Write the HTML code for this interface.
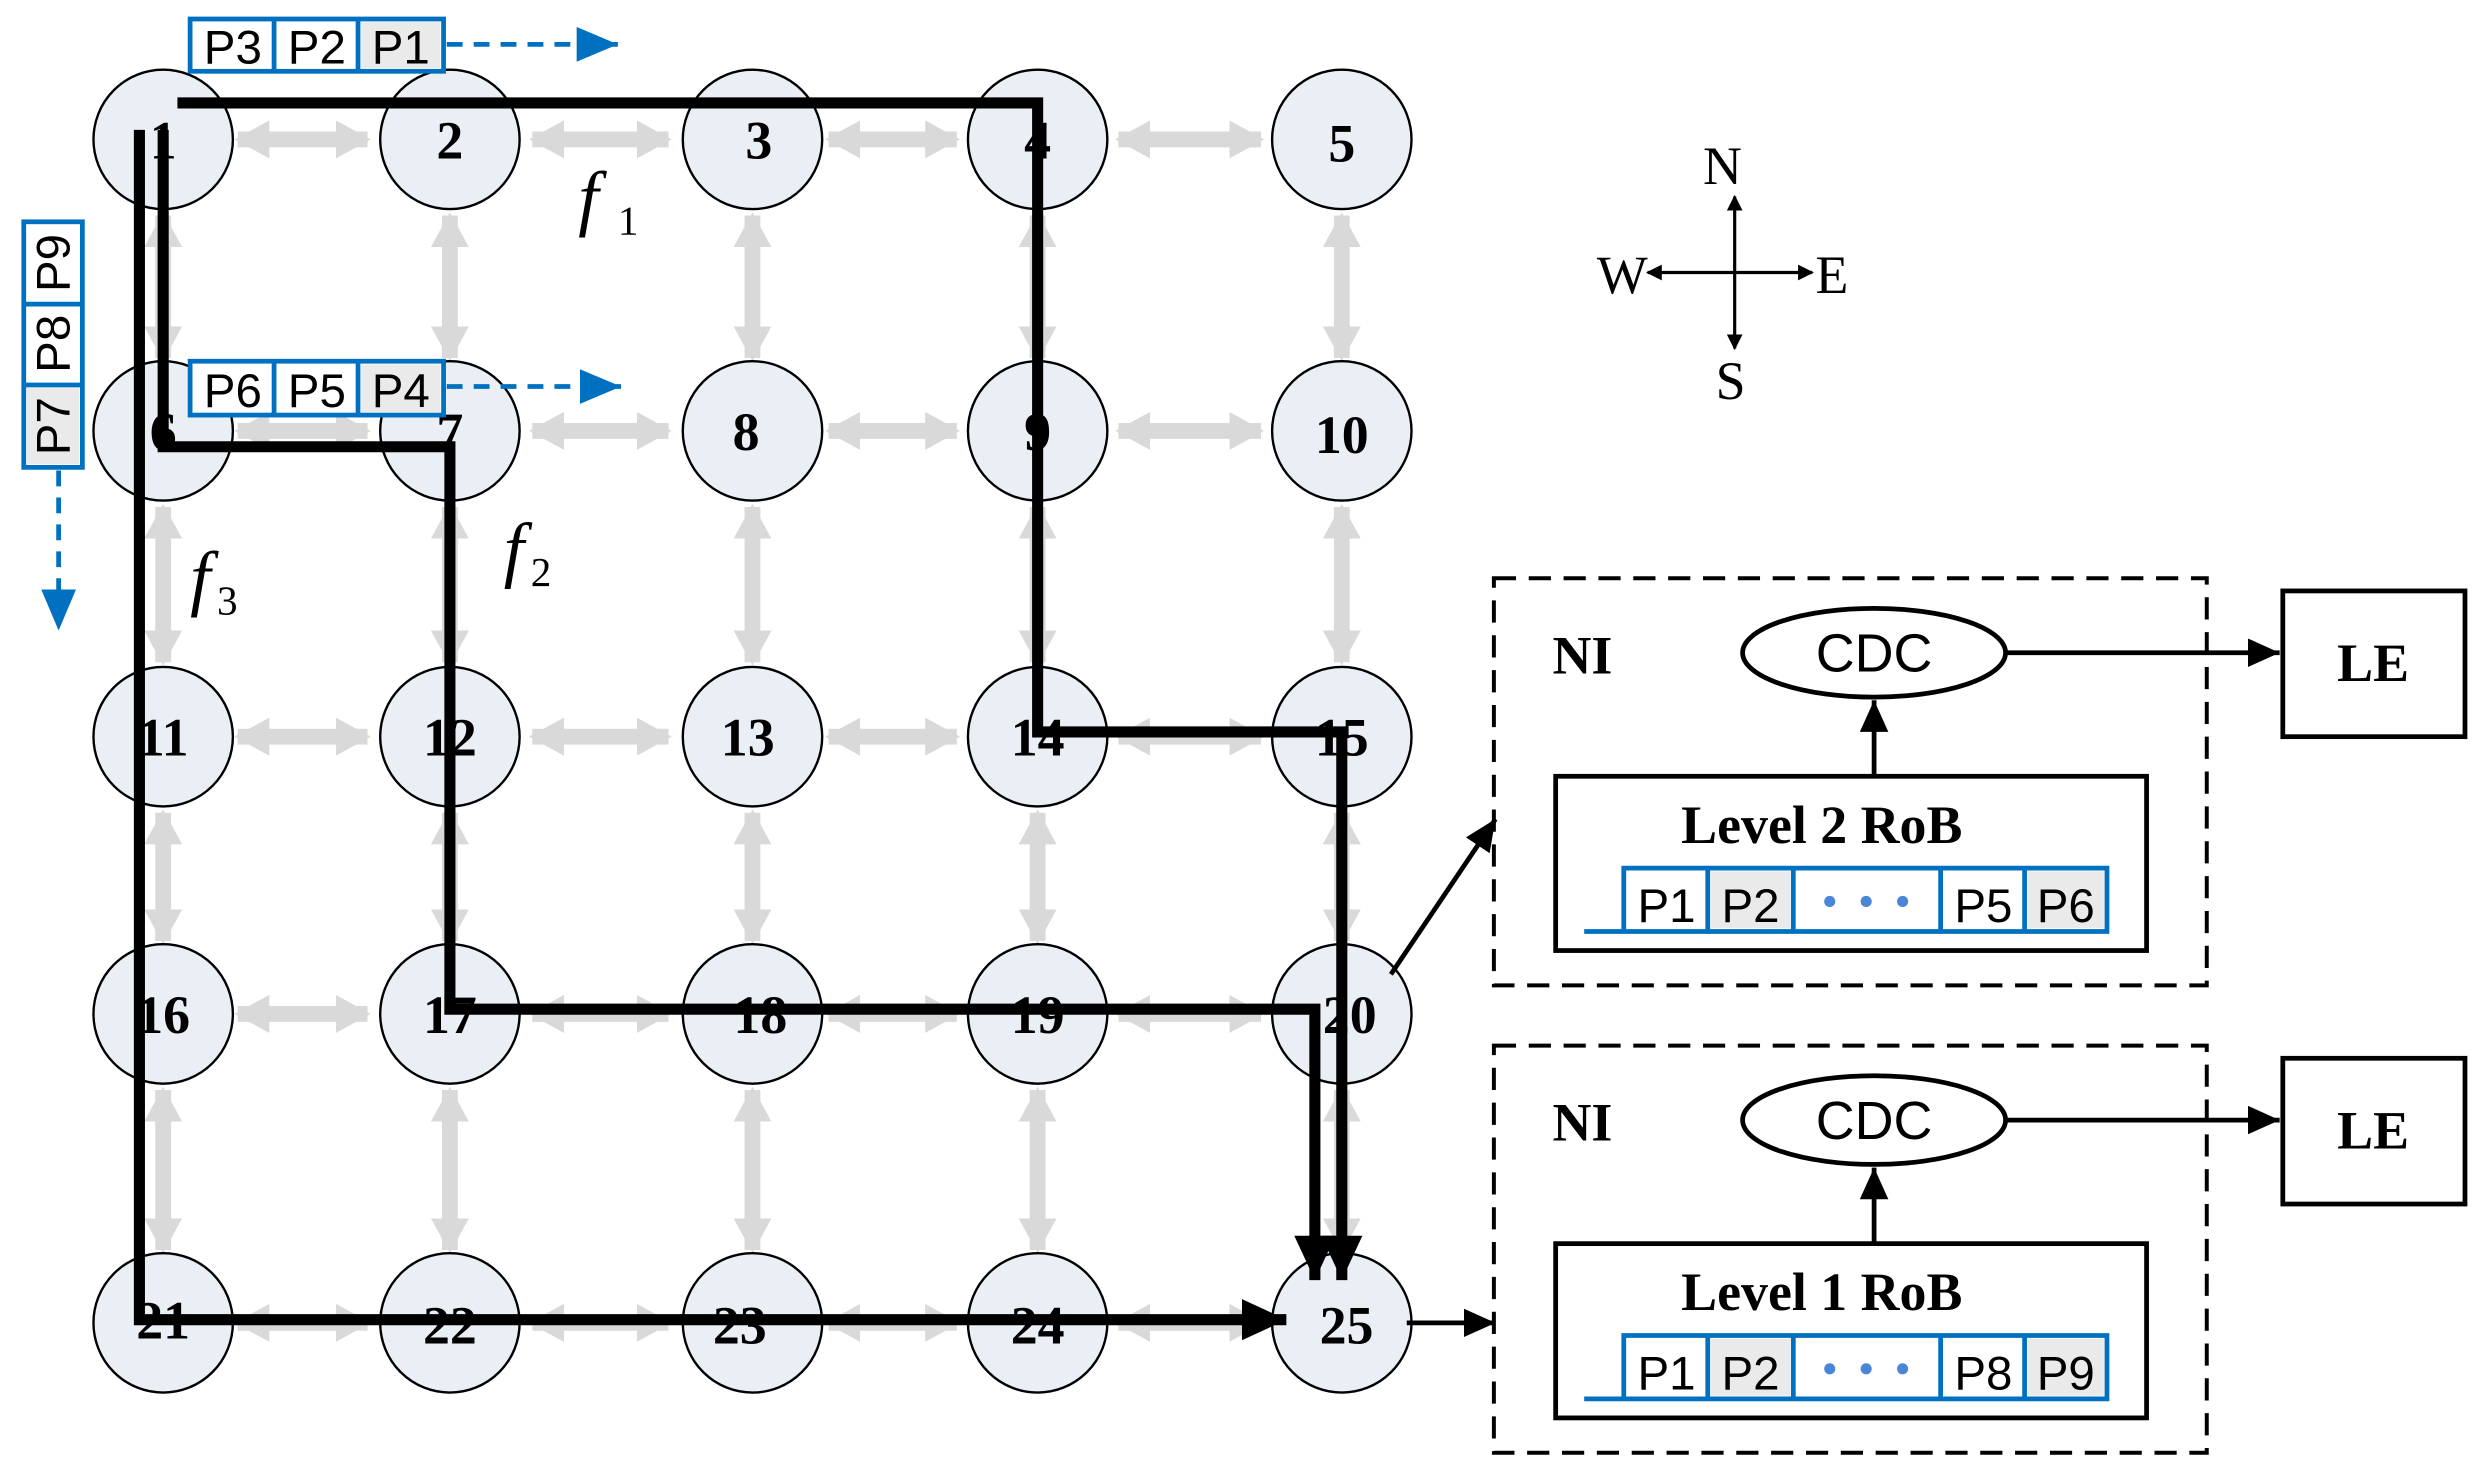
<!DOCTYPE html>
<html><head><meta charset="utf-8"><style>
html,body{margin:0;padding:0;background:#fff;}
svg{display:block;}
text{font-family:"Liberation Serif",serif;}
.n{font-weight:bold;font-size:34px;text-anchor:middle;}
.p text{font-family:"Liberation Sans",sans-serif !important;font-size:30px;text-anchor:middle;}
</style></head><body>
<svg width="2484" height="1477" viewBox="0 0 1568 932.3" preserveAspectRatio="none" xmlns="http://www.w3.org/2000/svg">
<defs>
<marker id="g" markerWidth="24" markerHeight="26" refX="20" refY="13" orient="auto-start-reverse" markerUnits="userSpaceOnUse"><path d="M0,1 L22,13 L0,25 Z" fill="#d9d9d9"/></marker>
<marker id="b" markerWidth="10" markerHeight="10" refX="9" refY="5" orient="auto" markerUnits="userSpaceOnUse"><path d="M0,0 L10,5 L0,10 Z" fill="#000"/></marker>
<marker id="bl" markerWidth="30" markerHeight="30" refX="28" refY="13" orient="auto" markerUnits="userSpaceOnUse"><path d="M0,0 L28,13 L0,26 Z" fill="#000"/></marker>
<marker id="ba" markerWidth="30" markerHeight="30" refX="26" refY="11" orient="auto" markerUnits="userSpaceOnUse"><path d="M0,0 L26,11 L0,22 Z" fill="#0070c0"/></marker>
<marker id="sm" markerWidth="22" markerHeight="22" refX="20" refY="9" orient="auto" markerUnits="userSpaceOnUse"><path d="M0,0 L20,9 L0,18 Z" fill="#000"/></marker>
<g id="hr">
<line x1="150" y1="0" x2="232" y2="0"/><line x1="336" y1="0" x2="422" y2="0"/><line x1="523" y1="0" x2="604" y2="0"/><line x1="706" y1="0" x2="796" y2="0"/>
</g>
<g id="vc">
<line x1="0" y1="136" x2="0" y2="226"/><line x1="0" y1="320" x2="0" y2="418"/><line x1="0" y1="513" x2="0" y2="594"/><line x1="0" y1="688" x2="0" y2="789"/>
</g>
</defs>
<g stroke="#d9d9d9" stroke-width="10" marker-start="url(#g)" marker-end="url(#g)">
<use href="#hr" y="88"/><use href="#hr" y="272"/><use href="#hr" y="465"/><use href="#hr" y="640"/><use href="#hr" y="835"/>
<use href="#vc" x="103"/><use href="#vc" x="284"/><use href="#vc" x="475"/><use href="#vc" x="655"/><use href="#vc" x="847"/>
</g>
<g fill="#eaeef5" stroke="#000" stroke-width="1.5">
<circle cx="103" cy="88" r="44"/><circle cx="284" cy="88" r="44"/><circle cx="475" cy="88" r="44"/><circle cx="655" cy="88" r="44"/><circle cx="847" cy="88" r="44"/>
<circle cx="103" cy="272" r="44"/><circle cx="284" cy="272" r="44"/><circle cx="475" cy="272" r="44"/><circle cx="655" cy="272" r="44"/><circle cx="847" cy="272" r="44"/>
<circle cx="103" cy="465" r="44"/><circle cx="284" cy="465" r="44"/><circle cx="475" cy="465" r="44"/><circle cx="655" cy="465" r="44"/><circle cx="847" cy="465" r="44"/>
<circle cx="103" cy="640" r="44"/><circle cx="284" cy="640" r="44"/><circle cx="475" cy="640" r="44"/><circle cx="655" cy="640" r="44"/><circle cx="847" cy="640" r="44"/>
<circle cx="103" cy="835" r="44"/><circle cx="284" cy="835" r="44"/><circle cx="475" cy="835" r="44"/><circle cx="655" cy="835" r="44"/><circle cx="847" cy="835" r="44"/>
</g>
<g class="n">
<text x="103" y="100">1</text><text x="284" y="100">2</text><text x="479" y="100">3</text><text x="655" y="100">4</text><text x="847" y="102">5</text>
<text x="103" y="284">6</text><text x="284" y="284">7</text><text x="471" y="284">8</text><text x="655" y="284">9</text><text x="847" y="286">10</text>
<text x="103" y="477">11</text><text x="284" y="477">12</text><text x="472" y="477">13</text><text x="655" y="477">14</text><text x="847" y="477">15</text>
<text x="103" y="652">16</text><text x="284" y="652">17</text><text x="480" y="652">18</text><text x="655" y="652">19</text><text x="852" y="652">20</text>
<text x="103" y="845">21</text><text x="284" y="848">22</text><text x="467" y="848">23</text><text x="655" y="848">24</text><text x="850" y="848">25</text>
</g>
<g fill="none" stroke="#000" stroke-width="7">
<polyline points="112,65 655,65 655,462 847,462 847,808" marker-end="url(#bl)"/>
<polyline points="103,82 103,282 284,282 284,637 830,637 830,808" marker-end="url(#bl)"/>
<polyline points="88,82 88,833 812,833" marker-end="url(#bl)"/>
</g>
<g font-style="italic" font-size="46">
<text x="365" y="140">f</text><text x="318" y="362">f</text><text x="120" y="380">f</text>
</g>
<g font-size="26"><text x="390" y="148">1</text><text x="335" y="370">2</text><text x="137" y="388">3</text></g>
<g stroke="#0070c0" stroke-width="3" fill="#fff">
<rect x="120" y="12" width="160" height="33"/><line x1="173" y1="12" x2="173" y2="45"/><line x1="226" y1="12" x2="226" y2="45"/>
<rect x="120" y="228" width="160" height="34"/><line x1="173" y1="228" x2="173" y2="262"/><line x1="226" y1="228" x2="226" y2="262"/>
<rect x="15" y="140" width="37" height="155"/><line x1="15" y1="192" x2="52" y2="192"/><line x1="15" y1="243" x2="52" y2="243"/>
</g>
<rect x="228" y="14" width="50" height="29" fill="#eaeaea"/><rect x="228" y="230" width="50" height="30" fill="#eaeaea"/><rect x="17" y="245" width="33" height="48" fill="#eaeaea"/>
<g class="p"><text x="147" y="40">P3</text><text x="200" y="40">P2</text><text x="253" y="40">P1</text>
<text x="147" y="257">P6</text><text x="200" y="257">P5</text><text x="253" y="257">P4</text>
<text transform="translate(44,269) rotate(-90)">P7</text><text transform="translate(44,217) rotate(-90)">P8</text><text transform="translate(44,166) rotate(-90)">P9</text></g>
<g stroke="#0070c0" stroke-width="3" stroke-dasharray="10,7" fill="none">
<line x1="282" y1="28" x2="390" y2="28" marker-end="url(#ba)"/>
<line x1="282" y1="244" x2="392" y2="244" marker-end="url(#ba)"/>
<line x1="37" y1="297" x2="37" y2="398" marker-end="url(#ba)"/>
</g>
<g stroke="#000" stroke-width="2"><line x1="1095" y1="172" x2="1095" y2="124" marker-end="url(#b)"/><line x1="1095" y1="172" x2="1095" y2="220" marker-end="url(#b)"/><line x1="1095" y1="172" x2="1040" y2="172" marker-end="url(#b)"/><line x1="1095" y1="172" x2="1144" y2="172" marker-end="url(#b)"/></g>
<g font-size="34"><text x="1075" y="116">N</text><text x="1083" y="252">S</text><text x="1008" y="185">W</text><text x="1146" y="185">E</text></g>
<g id="ni">
<rect x="943" y="365" width="450" height="257" fill="none" stroke="#000" stroke-width="2.5" stroke-dasharray="14,8"/>
<text x="980" y="425" font-size="34" font-weight="bold">NI</text>
<ellipse cx="1183" cy="412" rx="83" ry="28" fill="#fff" stroke="#000" stroke-width="3"/>
<text x="1183" y="424" font-size="34" text-anchor="middle" style="font-family:'Liberation Sans',sans-serif">CDC</text>
<line x1="1266" y1="412" x2="1439" y2="412" stroke="#000" stroke-width="3" marker-end="url(#sm)"/>
<rect x="1441" y="373" width="115" height="92" fill="#fff" stroke="#000" stroke-width="3"/>
<text x="1498" y="430" font-size="34" font-weight="bold" text-anchor="middle">LE</text>
<line x1="1183" y1="490" x2="1183" y2="442" stroke="#000" stroke-width="3" marker-end="url(#sm)"/>
<rect x="982" y="490" width="373" height="110" fill="#fff" stroke="#000" stroke-width="3"/>
<g stroke="#0070c0" stroke-width="3" fill="none"><polyline points="1000,588 1330,588 1330,548 1025,548 1025,588"/><line x1="1078" y1="548" x2="1078" y2="588"/><line x1="1132" y1="548" x2="1132" y2="588"/><line x1="1225" y1="548" x2="1225" y2="588"/><line x1="1278" y1="548" x2="1278" y2="588"/></g>
<rect x="1080" y="550" width="50" height="36" fill="#eaeaea"/><rect x="1280" y="550" width="48" height="36" fill="#eaeaea"/>
<g fill="#4a86d8"><circle cx="1155" cy="569" r="3.5"/><circle cx="1178" cy="569" r="3.5"/><circle cx="1201" cy="569" r="3.5"/></g>
</g>
<use href="#ni" y="295"/>
<text x="1150" y="532" font-size="34" font-weight="bold" text-anchor="middle">Level 2 RoB</text>
<text x="1150" y="827" font-size="34" font-weight="bold" text-anchor="middle">Level 1 RoB</text>
<g class="p"><text x="1052" y="582">P1</text><text x="1105" y="582">P2</text><text x="1252" y="582">P5</text><text x="1304" y="582">P6</text>
<text x="1052" y="877">P1</text><text x="1105" y="877">P2</text><text x="1252" y="877">P8</text><text x="1304" y="877">P9</text></g>
<g stroke="#000" stroke-width="3"><line x1="878" y1="615" x2="944" y2="517" marker-end="url(#sm)"/><line x1="888" y1="835" x2="944" y2="835" marker-end="url(#sm)"/></g>
</svg>
</body></html>
